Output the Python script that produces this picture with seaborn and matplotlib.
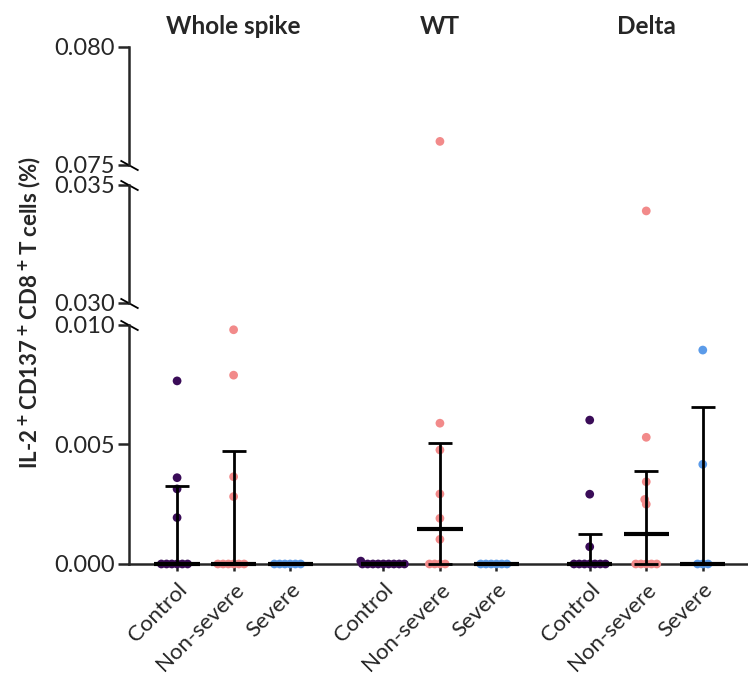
# IL-2+ CD137+ CD8+ T cells - broken axis scatter (median + IQR)

import numpy as np
import pandas as pd
import matplotlib
matplotlib.use("Agg")
import matplotlib.pyplot as plt
from matplotlib.collections import PathCollection
import seaborn as sns


# ============================================
# Data
# ============================================

antigens = ["Whole spike", "WT", "Delta"]
groups = ["Control", "Non-severe", "Severe"]
group_colors = ["#3a0c58", "#f28a8a", "#5b9be9"]

ws_control = [0, 0, 0, 0, 0, 0, 0.00194, 0.00314, 0.00361, 0.00766]
ws_nonsevere = [0, 0, 0, 0, 0, 0, 0.00282, 0.00365, 0.0079, 0.0098]
ws_severe = [0, 0, 0, 0, 0, 0]

wt_control = [0, 0, 0, 0, 0, 0, 0, 0, 0, 0.00012]
wt_nonsevere = [0, 0, 0, 0, 0.00103, 0.00191, 0.00293, 0.00477, 0.00589, 0.0760]
wt_severe = [0, 0, 0, 0, 0, 0]

delta_control = [0, 0, 0, 0, 0, 0, 0, 0.00072, 0.00292, 0.00602]
delta_nonsevere = [0, 0, 0, 0, 0, 0.0025, 0.0027, 0.00344, 0.0053, 0.0339]
delta_severe = [0, 0, 0, 0.00417, 0.00895]

series = [
    [ws_control, ws_nonsevere, ws_severe],
    [wt_control, wt_nonsevere, wt_severe],
    [delta_control, delta_nonsevere, delta_severe],
]

# axis segments of the broken y axis
segments = [(0.0, 0.010), (0.030, 0.035), (0.075, 0.080)]
segment_ticks = [[0.0, 0.005, 0.010], [0.030, 0.035], [0.075, 0.080]]

group_gap = 3.65


# ============================================
# Build table
# ============================================

rows = []
xticks = []
xlabels = []
for a, antigen in enumerate(antigens):
    for g, group in enumerate(groups):
        xpos = a * group_gap + g
        xticks.append(xpos)
        xlabels.append(group)
        for v in series[a][g]:
            rows.append({"antigen": antigen, "group": group,
                         "x": xpos, "value": v})
df = pd.DataFrame(rows)


# ============================================
# Plot
# ============================================

sns.set_style("ticks")
plt.rcParams["font.family"] = ["Lato", "DejaVu Sans"]
plt.rcParams["mathtext.default"] = "bf"

fig = plt.figure(figsize=(7.48, 6.79), dpi=100)

left, width = 0.1725, 0.8275
ax_bot = fig.add_axes([left, 0.1694, width, 0.352])
ax_mid = fig.add_axes([left, 0.5538, width, 0.1738], sharex=ax_bot)
ax_top = fig.add_axes([left, 0.757, width, 0.1738], sharex=ax_bot)
axes = [ax_bot, ax_mid, ax_top]

palette = dict(zip(groups, group_colors))

for i, ax in enumerate(axes):
    # small markers so the swarm packs tightly (dots overlap like the original)
    sns.swarmplot(
        data=df, x="x", y="value", hue="group",
        palette=palette, hue_order=groups,
        native_scale=True, orient="v",
        size=3.6, linewidth=0,
        legend=False, ax=ax,
        clip_on=(i != 0),
        zorder=3,
    )
    ax.set_ylim(*segments[i])
    ax.set_yticks(segment_ticks[i])
    ax.set_yticklabels([f"{t:.3f}" for t in segment_ticks[i]])
    ax.set_xlabel("")
    ax.set_ylabel("")
    for s in ["top", "right"]:
        ax.spines[s].set_visible(False)
    ax.spines["left"].set_linewidth(1.8)
    ax.tick_params(axis="y", length=8, width=1.8, labelsize=17, pad=2)
    ax.patch.set_alpha(0)

for ax in [ax_mid, ax_top]:
    ax.spines["bottom"].set_visible(False)
    ax.tick_params(axis="x", bottom=False, labelbottom=False)

ax_bot.spines["bottom"].set_linewidth(1.8)
ax_bot.set_xlim(-0.85, 10.1)
ax_bot.set_xticks(xticks)
ax_bot.set_xticklabels(xlabels, rotation=45, ha="right",
                       rotation_mode="anchor", fontsize=16)
ax_bot.tick_params(axis="x", length=5, width=1.8, pad=6)

# run the swarm layout once, then freeze it and enlarge the dots
fig.canvas.draw()
for ax in axes:
    for coll in ax.collections:
        if isinstance(coll, PathCollection) and "draw" in coll.__dict__:
            del coll.draw
            coll.set_sizes([6.3 ** 2])

# median and interquartile range
for a in range(len(antigens)):
    for g in range(len(groups)):
        xpos = a * group_gap + g
        q1, med, q3 = np.percentile(series[a][g], [25, 50, 75],
                                    method="weibull")
        ax_bot.errorbar(
            xpos, med,
            yerr=[[med - q1], [q3 - med]],
            fmt="none", ecolor="black",
            elinewidth=2, capsize=8.5, capthick=2,
            zorder=5, clip_on=False,
        )
        ax_bot.hlines(med, xpos - 0.4, xpos + 0.4, color="black",
                      lw=3, zorder=5, clip_on=False)

# break marks on the y axis
brk = dict(marker=[(-1, 0.55), (1, -0.55)], markersize=13,
           mew=1.3, color="black", clip_on=False, linestyle="none")
ax_bot.plot([0], [1], transform=ax_bot.transAxes, **brk)
ax_mid.plot([0, 0], [0, 1], transform=ax_mid.transAxes, **brk)
ax_top.plot([0], [0], transform=ax_top.transAxes, **brk)

# antigen titles
for a, antigen in enumerate(antigens):
    ax_top.text(a * group_gap + 1, 1.17, antigen,
                transform=ax_top.get_xaxis_transform(),
                ha="center", va="center",
                fontsize=17.5, fontweight="bold")

fig.text(0.04, 0.54, r"IL-2$^+$CD137$^+$CD8$^+$T cells (%)",
         rotation=90, ha="center", va="center",
         fontsize=16, fontweight="bold")

plt.savefig("out.png", dpi=100)
